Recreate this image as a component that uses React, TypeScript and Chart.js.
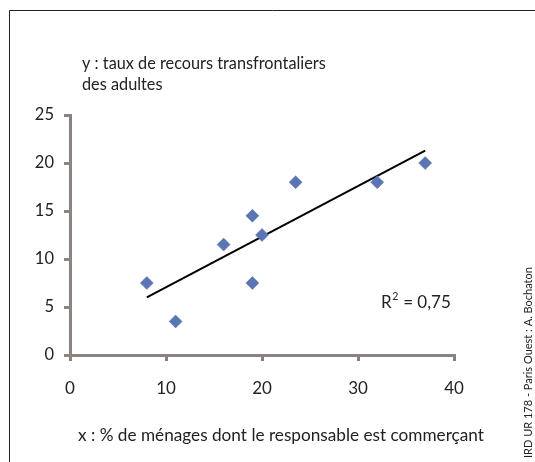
import React, { useEffect, useRef } from "react";
import { Chart, registerables } from "chart.js";

Chart.register(...registerables);

// Data
const xValues = [8, 11, 16, 19, 19, 20, 23.5, 32, 37];
const yValues = [7.5, 3.5, 11.5, 14.5, 7.5, 12.5, 18, 18, 20];
const trendX = [8, 37];
const trendY = [6.0, 21.3];
const xTicks = [0, 10, 20, 30, 40];
const yTicks = [0, 5, 10, 15, 20, 25];
const r2Label = "0,75";
const yTitleLines = ["y : taux de recours transfrontaliers", "des adultes"];
const xTitle = "x : % de ménages dont le responsable est commerçant";
const credit = "IRD UR 178 - Paris Ouest : A. Bochaton";

const AXIS = "#8b8380";
const MARK = "#5a74b4";
const TEXT = "#222222";
const FONT = "Lato, 'Open Sans', sans-serif";

const decorPlugin = {
  id: "decor",
  beforeDraw(chart: any) {
    const ctx = chart.ctx;
    ctx.save();
    ctx.fillStyle = "#ffffff";
    ctx.fillRect(0, 0, chart.width, chart.height);
    ctx.strokeStyle = "#222";
    ctx.lineWidth = 1;
    ctx.beginPath();
    ctx.moveTo(9.5, chart.height);
    ctx.lineTo(9.5, 10.5);
    ctx.lineTo(chart.width, 10.5);
    ctx.stroke();
    ctx.restore();
  },
  afterDraw(chart: any) {
    const ctx = chart.ctx;
    const xs = chart.scales.x;
    const ys = chart.scales.y;
    ctx.save();
    ctx.fillStyle = TEXT;
    ctx.textBaseline = "middle";
    ctx.textAlign = "left";
    ctx.font = `16.3px ${FONT}`;
    ctx.fillText(yTitleLines[0], 82, 64);
    ctx.fillText(yTitleLines[1], 82, 85);
    ctx.font = `17.2px ${FONT}`;
    ctx.fillText(xTitle, 78, 435);

    // R² annotation
    const rx = xs.getPixelForValue(32.4);
    const ry = ys.getPixelForValue(5.5);
    ctx.font = `17px ${FONT}`;
    ctx.fillText("R", rx, ry);
    const w = ctx.measureText("R").width;
    ctx.font = `10.5px ${FONT}`;
    ctx.fillText("2", rx + w + 0.5, ry - 6);
    const w2 = ctx.measureText("2").width;
    ctx.font = `17px ${FONT}`;
    ctx.fillText(" = " + r2Label, rx + w + w2 + 1, ry);

    // credit, rotated
    ctx.translate(528, 458);
    ctx.rotate(-Math.PI / 2);
    ctx.font = `11px ${FONT}`;
    ctx.fillText(credit, 0, 0);
    ctx.restore();
  },
};

export default function App() {
  const ref = useRef<HTMLCanvasElement | null>(null);
  useEffect(() => {
    document.body.style.margin = "0";
    if (!ref.current) return;
    const points = xValues.map((x, i) => ({ x, y: yValues[i] }));
    const trend = trendX.map((x, i) => ({ x, y: trendY[i] }));
    const chart = new Chart(ref.current, {
      type: "scatter",
      data: {
        datasets: [
          {
            type: "line",
            data: trend,
            borderColor: "#000",
            borderWidth: 2,
            pointRadius: 0,
            fill: false,
            order: 1,
          } as any,
          {
            data: points,
            pointStyle: "rectRot",
            pointRadius: 6.5,
            pointBackgroundColor: MARK,
            pointBorderColor: MARK,
            pointBorderWidth: 0.5,
            order: 0,
          },
        ],
      },
      options: {
        responsive: false,
        animation: false,
        devicePixelRatio: 1,
        layout: { padding: { left: 0, top: 115, right: 81, bottom: 0 } },
        plugins: {
          legend: { display: false },
          tooltip: { enabled: false },
          title: { display: false },
        },
        scales: {
          x: {
            type: "linear",
            min: 0,
            max: 40,
            afterFit(scale: any) {
              scale.height = 107;
            },
            afterBuildTicks(scale: any) {
              scale.ticks = xTicks.map((v) => ({ value: v }));
            },
            grid: {
              drawOnChartArea: false,
              drawTicks: true,
              tickLength: 6,
              color: AXIS,
              lineWidth: 3,
            },
            border: { display: true, color: AXIS, width: 3 },
            ticks: {
              color: TEXT,
              padding: 17,
              maxRotation: 0,
              font: { family: FONT, size: 17 },
            },
          },
          y: {
            type: "linear",
            min: 0,
            max: 25,
            afterFit(scale: any) {
              scale.width = 70;
            },
            afterBuildTicks(scale: any) {
              scale.ticks = yTicks.map((v) => ({ value: v }));
            },
            grid: {
              drawOnChartArea: false,
              drawTicks: true,
              tickLength: 6,
              color: AXIS,
              lineWidth: 3,
            },
            border: { display: true, color: AXIS, width: 3 },
            ticks: {
              color: TEXT,
              padding: 10,
              font: { family: FONT, size: 16.5 },
            },
          },
        },
      },
      plugins: [decorPlugin],
    });
    return () => chart.destroy();
  }, []);
  return <canvas ref={ref} width={535} height={462} style={{ display: "block" }} />;
}
